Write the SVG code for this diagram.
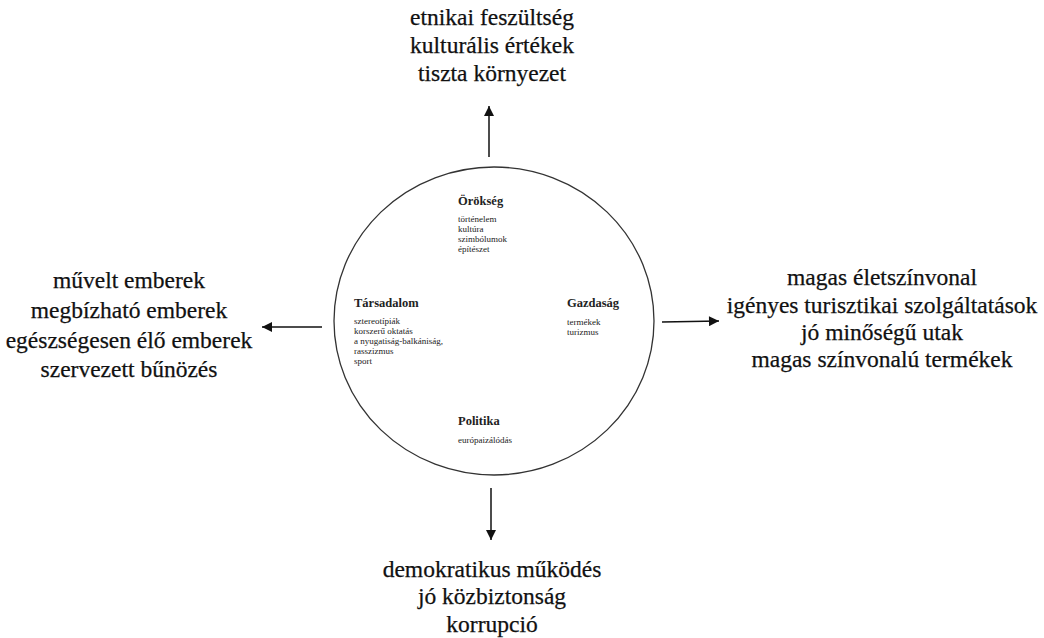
<svg xmlns="http://www.w3.org/2000/svg" width="1044" height="638" viewBox="0 0 1044 638">
<style>
.out{font-family:"Liberation Serif","Times New Roman",serif;font-size:23.5px;fill:#111;text-anchor:middle;stroke:#111;stroke-width:0.25}
.hd{font-family:"Liberation Serif","Times New Roman",serif;font-size:12.5px;font-weight:bold;fill:#222}
.it{font-family:"Liberation Serif","Times New Roman",serif;font-size:9px;fill:#222}
.ln{stroke:#111;stroke-width:1.5;fill:none}
</style>
<defs>
<marker id="ah" viewBox="0 0 10 10" refX="10" refY="5" markerWidth="11" markerHeight="10" markerUnits="userSpaceOnUse" orient="auto">
<path d="M0,0 L10,5 L0,10 z" fill="#111"/>
</marker>
</defs>
<rect width="1044" height="638" fill="#fff"/>
<g id="circle">
<ellipse cx="494" cy="321" rx="160" ry="154" fill="none" stroke="#333" stroke-width="1.3"/>
</g>
<g id="orokseg">
<text class="hd" x="458" y="205">Örökség</text>
<text class="it" x="458" y="222">történelem</text>
<text class="it" x="458" y="232">kultúra</text>
<text class="it" x="458" y="242">szimbólumok</text>
<text class="it" x="458" y="252">építészet</text>
</g>
<g id="tarsadalom">
<text class="hd" x="354" y="307">Társadalom</text>
<text class="it" x="354" y="324">sztereotípiák</text>
<text class="it" x="354" y="334">korszerű oktatás</text>
<text class="it" x="354" y="344">a nyugatiság-balkániság,</text>
<text class="it" x="354" y="354">rasszizmus</text>
<text class="it" x="354" y="364">sport</text>
</g>
<g id="gazdasag">
<text class="hd" x="567" y="307">Gazdaság</text>
<text class="it" x="567" y="325">termékek</text>
<text class="it" x="567" y="335">turizmus</text>
</g>
<g id="politika">
<text class="hd" x="458" y="425">Politika</text>
<text class="it" x="458" y="443">európaizálódás</text>
</g>
<g id="top">
<text class="out" x="492" y="25">etnikai feszültség</text>
<text class="out" x="492" y="53">kulturális értékek</text>
<text class="out" x="492" y="81">tiszta környezet</text>
</g>
<g id="left">
<text class="out" x="129" y="288">művelt emberek</text>
<text class="out" x="129" y="318">megbízható emberek</text>
<text class="out" x="129" y="348">egészségesen élő emberek</text>
<text class="out" x="129" y="377">szervezett bűnözés</text>
</g>
<g id="right">
<text class="out" x="882" y="285">magas életszínvonal</text>
<text class="out" x="882" y="313">igényes turisztikai szolgáltatások</text>
<text class="out" x="882" y="340">jó minőségű utak</text>
<text class="out" x="882" y="367">magas színvonalú termékek</text>
</g>
<g id="bottom">
<text class="out" x="492" y="577">demokratikus működés</text>
<text class="out" x="492" y="604">jó közbiztonság</text>
<text class="out" x="492" y="632">korrupció</text>
</g>
<g id="connectors">
<line class="ln" x1="489" y1="157" x2="489" y2="106" marker-end="url(#ah)"/>
<line class="ln" x1="322" y1="327" x2="262" y2="327" marker-end="url(#ah)"/>
<line class="ln" x1="662" y1="322" x2="719" y2="321" marker-end="url(#ah)"/>
<line class="ln" x1="491" y1="488" x2="491" y2="540" marker-end="url(#ah)"/>
</g>
</svg>
